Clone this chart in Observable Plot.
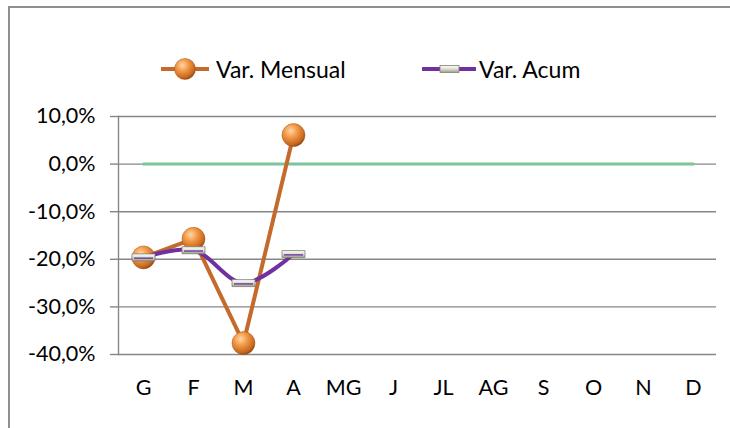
<!DOCTYPE html>
<html>
<head>
<meta charset="utf-8">
<script src="https://cdn.jsdelivr.net/npm/d3@7"></script>
<script src="https://cdn.jsdelivr.net/npm/@observablehq/plot@0.6"></script>
<style>
  html, body { margin: 0; padding: 0; background: #fff; overflow: hidden; width: 730px; height: 428px; }
  #wrap { position: relative; width: 730px; height: 428px; overflow: hidden; background: #fff; font-family: Lato, "Noto Sans", sans-serif; }
  .bline { position: absolute; background: #8f8f8f; }
  #chart { position: absolute; left: 0; top: 0; width: 730px; height: 428px; overflow: hidden; }
  #chart svg { display: block; }
  #cover { position: absolute; left: 720px; top: 8px; width: 10px; height: 420px; background: #fff; z-index: 10; }
  .leg { position: absolute; top: 52px; display: flex; align-items: center; font-size: 23px; color: #000; white-space: nowrap; }
  .leg svg { display: block; }
</style>
</head>
<body>
<div id="wrap">
  <div class="bline" style="left:8px; top:6px; width:722px; height:1.5px;"></div>
  <div class="bline" style="left:8px; top:6px; width:1.5px; height:422px;"></div>
  <div id="chart"></div>
  <div id="cover"></div>
  <div class="leg" style="left:160px;">
    <svg width="52" height="34" viewBox="0 0 52 34">
      <defs>
        <radialGradient id="legSphere" cx="0.38" cy="0.32" r="0.7">
          <stop offset="0" stop-color="#ffd7a6"/>
          <stop offset="0.4" stop-color="#f39a48"/>
          <stop offset="0.85" stop-color="#c8661e"/>
          <stop offset="1" stop-color="#8f4512"/>
        </radialGradient>
      </defs>
      <line x1="1" y1="17" x2="49" y2="17" stroke="#c46a2b" stroke-width="4"/>
      <circle cx="25" cy="17" r="10.5" fill="url(#legSphere)" stroke="#a65a1c" stroke-width="0.5"/>
    </svg>
    <span style="margin-left:4px;">Var. Mensual</span>
  </div>
  <div class="leg" style="left:422px;">
    <svg width="54" height="34" viewBox="0 0 54 34">
      <defs>
        <linearGradient id="legRect" x1="0" y1="0" x2="0" y2="1">
          <stop offset="0" stop-color="#ffffff"/>
          <stop offset="0.5" stop-color="#dcdfcf"/>
          <stop offset="1" stop-color="#9a9c8c"/>
        </linearGradient>
      </defs>
      <line x1="1" y1="17" x2="53" y2="17" stroke="#7030a0" stroke-width="4" stroke-linecap="round"/>
      <rect x="18" y="13.5" width="19" height="7" fill="url(#legRect)" stroke="#80806f" stroke-width="0.8"/>
    </svg>
    <span style="margin-left:3px;">Var. Acum</span>
  </div>
</div>
<script>
const months = ["G","F","M","A","MG","J","JL","AG","S","O","N","D"];
const varMensual = [-19.6, -15.7, -37.6, 6.1];
const varAcum = [-19.6, -18.1, -25.0, -18.9];
const referencia = [0, 0, 0, 0, 0, 0, 0, 0, 0, 0, 0, 0];
const yTicks = [10, 0, -10, -20, -30, -40];

const mensualData = varMensual.map((v, i) => ({month: months[i], value: v}));
const acumData = varAcum.map((v, i) => ({month: months[i], value: v}));
const refData = referencia.map((v, i) => ({month: months[i], value: v}));

const rectSymbol = {
  draw(context) {
    context.rect(-11.5, -3.5, 23, 7);
  }
};
const innerLine = {
  draw(context) {
    context.moveTo(-9.5, 0.8);
    context.lineTo(9.5, 0.8);
  }
};

const fmt = d => d.toFixed(1).replace(".", ",") + "%";

const chart = Plot.plot({
  width: 730,
  height: 428,
  marginLeft: 118,
  marginRight: 14,
  marginTop: 116,
  marginBottom: 74,
  style: {fontFamily: "Lato, 'Noto Sans', sans-serif", fontSize: "21.5px", color: "#000", background: "transparent", overflow: "hidden"},
  x: {type: "point", domain: months, range: [143, 693], padding: 0, label: null},
  y: {domain: [-40, 10], ticks: yTicks, label: null},
  marks: [
    Plot.gridY(yTicks, {stroke: "#868686", strokeOpacity: 1, strokeWidth: 1.4}),
    Plot.axisY(yTicks, {tickSize: 8, tickPadding: 15, tickFormat: fmt, stroke: "#868686", strokeWidth: 1.4, fontSize: 21.5, fill: "#000", label: null}),
    Plot.axisX({tickSize: 0, tickPadding: 25, fontSize: 21.5, fill: "#000", label: null}),
    Plot.frame({anchor: "left", stroke: "#868686", strokeWidth: 1.4}),
    Plot.line(refData, {x: "month", y: "value", stroke: "#7cc59a", strokeWidth: 3}),
    Plot.line(mensualData, {x: "month", y: "value", stroke: "#c46a2b", strokeWidth: 4}),
    Plot.dot(mensualData, {x: "month", y: "value", r: 11.5, fill: "url(#sphere)", stroke: "#a65a1c", strokeWidth: 0.5}),
    Plot.line(acumData, {x: "month", y: "value", stroke: "#7030a0", strokeWidth: 4, curve: "catmull-rom"}),
    Plot.dot(acumData, {x: "month", y: "value", symbol: rectSymbol, r: 5, fill: "url(#acumRect)", stroke: "#80806f", strokeWidth: 0.8}),
    Plot.dot(acumData, {x: "month", y: "value", symbol: innerLine, r: 5, fill: "none", stroke: "#7a4aa8", strokeWidth: 1.6})
  ]
});

chart.insertAdjacentHTML("afterbegin", `
  <defs>
    <radialGradient id="sphere" cx="0.38" cy="0.32" r="0.7">
      <stop offset="0" stop-color="#ffd7a6"/>
      <stop offset="0.4" stop-color="#f39a48"/>
      <stop offset="0.85" stop-color="#c8661e"/>
      <stop offset="1" stop-color="#8f4512"/>
    </radialGradient>
    <linearGradient id="acumRect" x1="0" y1="0" x2="0" y2="1">
      <stop offset="0" stop-color="#ffffff"/>
      <stop offset="0.5" stop-color="#dcdfcf"/>
      <stop offset="1" stop-color="#9a9c8c"/>
    </linearGradient>
  </defs>`);

document.getElementById("chart").appendChild(chart);
</script>
</body>
</html>
